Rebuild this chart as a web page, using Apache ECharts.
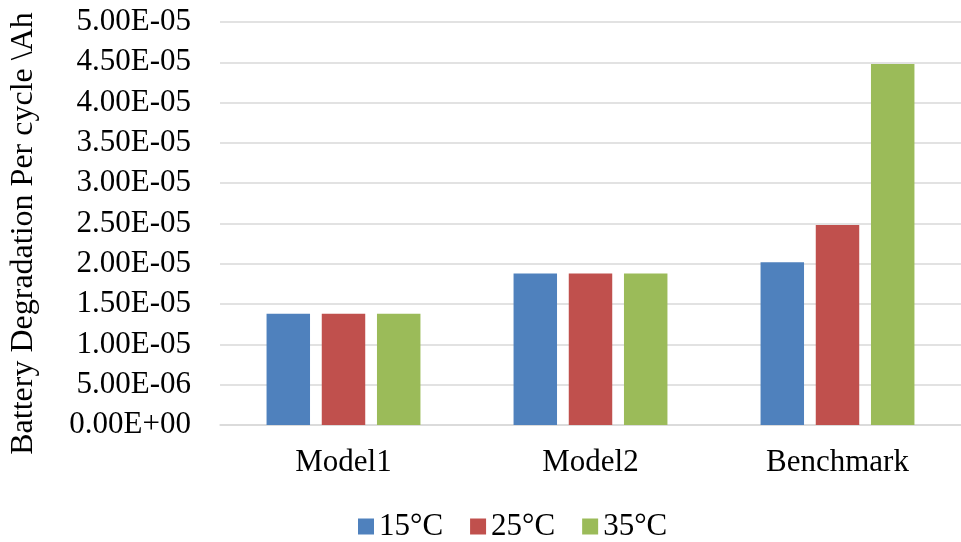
<!DOCTYPE html>
<html>
<head>
<meta charset="utf-8">
<script src="https://cdn.jsdelivr.net/npm/echarts@6/dist/echarts.min.js"></script>
<style>
html,body{margin:0;padding:0;background:#fff;}
#chart{width:961px;height:542px;}
</style>
</head>
<body>
<div id="chart"></div>
<script>
const categories = ['Model1', 'Model2', 'Benchmark'];
const seriesNames = ['15°C', '25°C', '35°C'];
const values15 = [1.38e-5, 1.88e-5, 2.02e-5];
const values25 = [1.38e-5, 1.88e-5, 2.48e-5];
const values35 = [1.38e-5, 1.88e-5, 4.48e-5];
const colors = ['#4F81BD', '#C0504D', '#9BBB59'];
const yName = 'Battery Degradation Per cycle \\Ah';

function fmt(v) {
  const s = Number(v).toExponential(2);
  const parts = s.split('e');
  let exp = parseInt(parts[1], 10);
  const sign = exp < 0 ? '-' : '+';
  exp = Math.abs(exp);
  return parts[0] + 'E' + sign + (exp < 10 ? '0' + exp : String(exp));
}

const FONT = '"Liberation Serif", "Times New Roman", serif';
const chart = echarts.init(document.getElementById('chart'));
const allValues = [values15, values25, values35];
chart.setOption({
  animation: false,
  backgroundColor: '#fff',
  textStyle: { fontFamily: FONT },
  grid: { left: 216, width: 752, top: 22, height: 403, containLabel: false },
  legend: {
    top: 506,
    left: 353,
    itemWidth: 16,
    itemHeight: 16,
    itemGap: 27,
    icon: 'rect',
    textStyle: { fontFamily: FONT, fontSize: 31, color: '#000' },
    data: seriesNames
  },
  xAxis: {
    type: 'category',
    data: categories,
    axisLine: { show: true, lineStyle: { color: '#D9D9D9', width: 1.5 } },
    axisTick: { show: false },
    axisLabel: { fontFamily: FONT, fontSize: 31, color: '#000', margin: 22 }
  },
  yAxis: {
    type: 'value',
    min: 0,
    max: 5e-5,
    interval: 5e-6,
    name: yName,
    nameLocation: 'middle',
    nameGap: 180,
    nameRotate: 90,
    nameTextStyle: { fontFamily: FONT, fontSize: 32, color: '#000', padding: [0, 20, 0, 0] },
    axisLine: { show: false },
    axisTick: { show: false },
    splitLine: { lineStyle: { color: '#D9D9D9', width: 1.5 } },
    axisLabel: { fontFamily: FONT, fontSize: 31, color: '#000', margin: 29, formatter: fmt }
  },
  series: seriesNames.map((n, i) => ({
    name: n,
    type: 'bar',
    data: allValues[i],
    barWidth: '17.6%',
    barGap: '27%',
    itemStyle: { color: colors[i] }
  }))
});
</script>
</body>
</html>
